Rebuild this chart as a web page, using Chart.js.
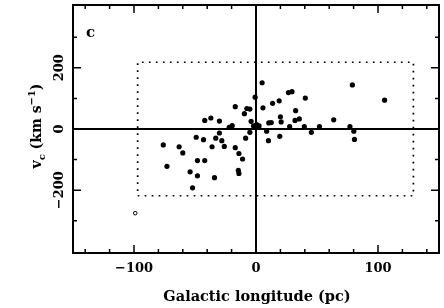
<!DOCTYPE html>
<html><head><meta charset="utf-8">
<script src="https://cdn.jsdelivr.net/npm/chart.js@4/dist/chart.umd.min.js"></script>
<style>html,body{margin:0;padding:0;background:#fff;}canvas{display:block;}</style>
</head><body>
<canvas id="c" width="444" height="308"></canvas>
<script>
// Galactic longitude (pc) of each object
const longitude = [-76,-73,-63,-60,-49,-43,-48,-42,-54,-48,-52,-34,-42,-37,-30,-36,-33,-28,-26,-30,
  -22,-19.5,-17,-14,-11,-14.5,-14,-17,-7.5,-5,-9.5,-8.5,-5,-4,-2,0.5,2.5,-0.7,5,5.7,
  13.6,19,26.6,29.5,40.4,79,105.4,20,20.6,32.5,35.5,32,10.5,12.5,27.6,39.6,52,63.7,77,80.2,
  80.7,45.4,8.7,10.2,19.5];
// velocity v_c (km s^-1) of each object
const velocity = [-52,-122,-58,-78,-27,-35,-103,-103,-140,-153,-192,-159,28,36,26,-58,-30,-38,-57,-13,
  5,11,-61,-80,-98,-135,-145,73,67,65,50,-30,-11,25,10,14,10,104,151,69,
  84,92,119,122,101,144,94,40,23,60,33,28,20,21,8,8,8,30,8,-7,
  -34,-11,-7,-38,-24];
// the single open-circle object
const outlierX = [-99];
const outlierY = [-275];
// dotted selection box corners
const boxX = [-97, 129, 129, -97, -97];
const boxY = [-218, -218, 218, 218, -218];
// axes
const xRange = [-150, 150];
const yRange = [-405, 405];
const xTickLabels = [-100, 0, 100];
const yTickLabels = [-200, 0, 200];
const xMinorStep = 20;
const yMinorStep = 100;
const panelLabel = 'c';
const xTitle = 'Galactic longitude (pc)';

const FONT = '"DejaVu Serif", serif';
const fmt = v => (v < 0 ? '\u2212' + Math.abs(v) : String(v));

const framePlugin = {
  id: 'frame',
  beforeDatasetsDraw(chart) {
    const {ctx, chartArea: a, scales: {x, y}} = chart;
    ctx.save();
    ctx.strokeStyle = '#000';
    ctx.lineWidth = 2;
    ctx.beginPath();
    const x0 = x.getPixelForValue(0), y0 = y.getPixelForValue(0);
    ctx.moveTo(x0, a.top); ctx.lineTo(x0, a.bottom);
    ctx.moveTo(a.left, y0); ctx.lineTo(a.right, y0);
    ctx.stroke();
    ctx.restore();
  },
  afterDraw(chart) {
    const {ctx, chartArea: a, scales: {x, y}} = chart;
    ctx.save();
    ctx.strokeStyle = '#000';
    ctx.fillStyle = '#000';
    ctx.lineWidth = 2;
    ctx.strokeRect(a.left, a.top, a.right - a.left, a.bottom - a.top);
    ctx.lineWidth = 1.5;
    ctx.beginPath();
    for (let v = Math.ceil(xRange[0] / xMinorStep) * xMinorStep; v <= xRange[1]; v += xMinorStep) {
      const px = x.getPixelForValue(v);
      if (px <= a.left + 1 || px >= a.right - 1) continue;
      const len = (v % 100 === 0) ? 8 : 4;
      ctx.moveTo(px, a.bottom); ctx.lineTo(px, a.bottom - len);
      ctx.moveTo(px, a.top); ctx.lineTo(px, a.top + len);
    }
    for (let v = Math.ceil(yRange[0] / yMinorStep) * yMinorStep; v <= yRange[1]; v += yMinorStep) {
      const py = y.getPixelForValue(v);
      if (py <= a.top + 2 || py >= a.bottom - 2) continue;
      const len = (v % 200 === 0) ? 8 : 4;
      ctx.moveTo(a.left, py); ctx.lineTo(a.left + len, py);
      ctx.moveTo(a.right, py); ctx.lineTo(a.right - len, py);
    }
    ctx.stroke();

    // x tick labels
    ctx.font = 'bold 13px ' + FONT;
    ctx.textAlign = 'center';
    ctx.textBaseline = 'alphabetic';
    xTickLabels.forEach(v => ctx.fillText(fmt(v), x.getPixelForValue(v), 272));
    // y tick labels (rotated)
    yTickLabels.forEach(v => {
      ctx.save();
      ctx.translate(63, y.getPixelForValue(v));
      ctx.rotate(-Math.PI / 2);
      ctx.fillText(fmt(v), 0, 0);
      ctx.restore();
    });
    // x title
    ctx.font = 'bold 14.5px ' + FONT;
    ctx.fillText(xTitle, (a.left + a.right) / 2 + 1, 301);
    // y title with sub/superscripts
    ctx.save();
    ctx.translate(41, 126);
    ctx.rotate(-Math.PI / 2);
    const big = 'bold 14px ' + FONT, small = 'bold 10px ' + FONT;
    const parts = [
      {t: 'v', f: big, dy: 0},
      {t: 'c', f: small, dy: 4},
      {t: ' (km s', f: big, dy: 0},
      {t: '\u22121', f: small, dy: -6},
      {t: ')', f: big, dy: 0}
    ];
    let total = 0;
    parts.forEach(p => { ctx.font = p.f; p.w = ctx.measureText(p.t).width; total += p.w; });
    let cx = -total / 2;
    ctx.textAlign = 'left';
    parts.forEach(p => { ctx.font = p.f; ctx.fillText(p.t, cx, p.dy); cx += p.w; });
    ctx.restore();
    // panel label
    ctx.font = 'bold 15px ' + FONT;
    ctx.textAlign = 'center';
    ctx.fillText(panelLabel, 90.5, 37);
    ctx.restore();
  }
};

new Chart(document.getElementById('c'), {
  type: 'scatter',
  data: {
    datasets: [
      {
        label: 'box',
        type: 'line',
        data: boxX.map((v, i) => ({x: v, y: boxY[i]})),
        borderColor: '#000',
        borderWidth: 1.7,
        borderDash: [1.7, 5.3],
        pointRadius: 0,
        fill: false,
        tension: 0
      },
      {
        label: 'objects',
        data: longitude.map((v, i) => ({x: v, y: velocity[i]})),
        backgroundColor: '#000',
        borderColor: '#000',
        pointRadius: 2.6,
        borderWidth: 0
      },
      {
        label: 'outlier',
        data: outlierX.map((v, i) => ({x: v, y: outlierY[i]})),
        backgroundColor: '#fff',
        borderColor: '#000',
        pointRadius: 1.8,
        borderWidth: 1
      }
    ]
  },
  options: {
    responsive: false,
    animation: false,
    devicePixelRatio: 1,
    layout: {padding: {left: 73, right: 2, top: 5, bottom: 55}},
    plugins: {legend: {display: false}, tooltip: {enabled: false}},
    scales: {
      x: {type: 'linear', min: xRange[0], max: xRange[1], display: false},
      y: {type: 'linear', min: yRange[0], max: yRange[1], display: false}
    }
  },
  plugins: [framePlugin]
});
</script>
</body></html>
